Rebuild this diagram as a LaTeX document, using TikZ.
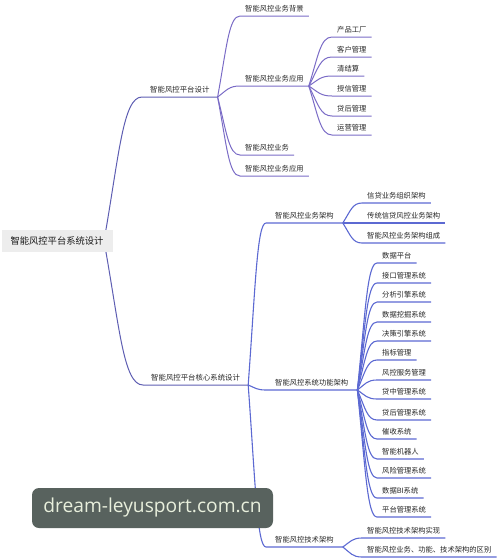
\documentclass[tikz,border=0pt]{standalone}
\usepackage{fontspec}
\setmainfont{Noto Sans CJK SC}
\newfontfamily\wmfont{Open Sans}
\usetikzlibrary{calc,backgrounds}
\definecolor{upcol}{HTML}{7A6BC6}
\definecolor{lowcol}{HTML}{5C69D2}
\definecolor{rootcol}{HTML}{5E5EB2}
\definecolor{txtcol}{HTML}{262626}
\definecolor{wmfill}{HTML}{58625E}
\definecolor{wmtext}{HTML}{E8EFDC}
\tikzset{
  x=1pt, y=-1pt,
  leaf/.style={anchor=south west, font=\fontsize{7.3}{8}\selectfont, text=txtcol,
    inner xsep=5pt, inner ysep=4.6pt, text height=6pt, text depth=0pt},
  lvlone/.style={leaf, inner xsep=8pt, font=\fontsize{7.4}{8}\selectfont},
  lvltwo/.style={leaf, inner xsep=9pt},
  rootbox/.style={fill=black!7, text=black!90, font=\fontsize{9.3}{10}\selectfont,
    minimum width=111pt, minimum height=22pt, inner sep=0pt},
  upline/.style={draw=upcol, line width=1pt},
  lowline/.style={draw=lowcol, line width=1.1pt},
  rootline/.style={draw=rootcol, line width=1pt},
  wmbox/.style={fill=wmfill, rounded corners=7pt, minimum width=241pt, minimum height=40pt,
    text=wmtext, font=\wmfont\fontsize{19.2}{22}\selectfont, inner sep=0pt}
}
\newcommand\mmconn[3]{%
  \draw[#1] let \p1=(#2), \p2=(#3.south west), \p3=(#3.south east) in
    (\p1) .. controls ({\x1+0.4*(\x2-\x1)},{\y1+0.6*(\y2-\y1)})
             and ({\x1+0.5*(\x2-\x1)},{\y2}) .. (\p2) -- (\p3);}
\begin{document}
\begin{tikzpicture}
\useasboundingbox (0,0) rectangle (500,560);
% root
\node[rootbox] (root) at (57,241) {智能风控平台系统设计};
\coordinate (rh) at (104,241);
% level 1
\node[lvlone] (A) at (142,97) {智能风控平台设计};
\node[lvlone] (B) at (143,385) {智能风控平台核心系统设计};
% upper branch
\node[leaf] (A1) at (240,16) {智能风控业务背景};
\node[leaf] (A2) at (240,86) {智能风控业务应用};
\node[leaf] (A3) at (240,155) {智能风控业务};
\node[leaf] (A4) at (240,176) {智能风控业务应用};
\node[leaf] (A21) at (332,37) {产品工厂};
\node[leaf] (A22) at (332,57) {客户管理};
\node[leaf] (A23) at (332,76) {清结算};
\node[leaf] (A24) at (332,96) {授信管理};
\node[leaf] (A25) at (332,116) {贷后管理};
\node[leaf] (A26) at (332,135) {运营管理};
% lower branch
\node[lvltwo] (B1) at (266,223) {智能风控业务架构};
\node[lvltwo] (B2) at (266,390) {智能风控系统功能架构};
\node[lvltwo] (B3) at (266,547) {智能风控技术架构};
\node[leaf] (B11) at (362,203) {信贷业务组织架构};
\node[leaf] (B12) at (362,223) {传统信贷风控业务架构};
\node[leaf] (B13) at (362,243) {智能风控业务架构组成};
\node[leaf] (B201) at (377,263) {数据平台};
\node[leaf] (B202) at (377,283) {接口管理系统};
\node[leaf] (B203) at (377,302) {分析引擎系统};
\node[leaf] (B204) at (377,322) {数据挖掘系统};
\node[leaf] (B205) at (377,341) {决策引擎系统};
\node[leaf] (B206) at (377,360) {指标管理};
\node[leaf] (B207) at (377,380) {风控服务管理};
\node[leaf] (B208) at (377,399) {贷中管理系统};
\node[leaf] (B209) at (377,420) {贷后管理系统};
\node[leaf] (B210) at (377,439) {催收系统};
\node[leaf] (B211) at (377,459) {智能机器人};
\node[leaf] (B212) at (377,478) {风险管理系统};
\node[leaf] (B213) at (377,498) {数据BI系统};
\node[leaf] (B214) at (377,517) {平台管理系统};
\node[leaf] (B31) at (362,538) {智能风控技术架构实现};
\node[leaf] (B32) at (362,557) {智能风控业务、功能、技术架构的区别};
% connectors
\begin{pgfonlayer}{background}
\mmconn{rootline}{rh}{A}
\mmconn{rootline}{rh}{B}
\foreach \c in {A1,A2,A3,A4} {\mmconn{upline}{A.south east}{\c}}
\foreach \c in {A21,A22,A23,A24,A25,A26} {\mmconn{upline}{A2.south east}{\c}}
\foreach \c in {B1,B2,B3} {\mmconn{lowline}{B.south east}{\c}}
\foreach \c in {B11,B12,B13} {\mmconn{lowline}{B1.south east}{\c}}
\foreach \c in {B201,B202,B203,B204,B205,B206,B207,B208,B209,B210,B211,B212,B213,B214} {\mmconn{lowline}{B2.south east}{\c}}
\foreach \c in {B31,B32} {\mmconn{lowline}{B3.south east}{\c}}
\end{pgfonlayer}
% watermark
\node[wmbox] (wm) at (152.5,508) {dream-leyusport.com.cn};
\end{tikzpicture}
\end{document}
